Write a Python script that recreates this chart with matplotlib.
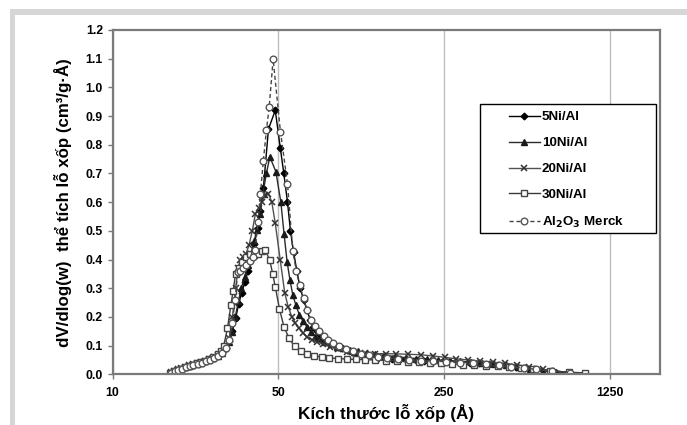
import matplotlib
matplotlib.use("Agg")
import matplotlib.pyplot as plt
from matplotlib.patches import Rectangle
from matplotlib.ticker import FixedLocator, NullLocator

plt.rcParams['font.family'] = ['Liberation Sans', 'DejaVu Sans']
plt.rcParams['mathtext.default'] = 'bf'

# ---------------- data ----------------
x_5ni = [17.6, 18.2, 18.8, 19.5, 20.2, 21.0, 21.8, 22.7, 23.6, 24.6, 25.6, 26.7, 27.8, 28.9,
         30.0, 31.0, 32.0, 33.0, 34.0, 35.0, 36.1, 37.2, 38.4, 39.6, 40.9, 42.0, 43.2, 45.4,
         48.5, 50.9, 52.7, 54.6, 56.2, 57.9, 59.8, 61.8, 63.8, 66.0, 68.0, 70.0, 72.5, 75.0,
         78.0, 80.8, 85.0, 89.0, 93.0, 97.6, 102, 107, 112, 118, 125, 132, 140, 150, 162, 175,
         190, 205, 225, 245, 265, 290, 320, 350, 385, 420, 460, 500, 550, 600, 720, 845]
y_5ni = [0.005, 0.012, 0.016, 0.020, 0.025, 0.030, 0.034, 0.038, 0.042, 0.047, 0.052, 0.058, 0.066, 0.076,
         0.092, 0.115, 0.150, 0.195, 0.245, 0.285, 0.320, 0.360, 0.405, 0.455, 0.510, 0.570, 0.648, 0.855,
         0.920, 0.790, 0.700, 0.600, 0.500, 0.427, 0.360, 0.300, 0.260, 0.224, 0.190, 0.166, 0.150, 0.137,
         0.125, 0.114, 0.104, 0.096, 0.090, 0.085, 0.079, 0.071, 0.067, 0.064, 0.061, 0.058, 0.057, 0.055, 0.053, 0.051,
         0.049, 0.047, 0.046, 0.044, 0.043, 0.042, 0.040, 0.038, 0.036, 0.033, 0.030, 0.027, 0.023, 0.019, 0.012, 0.006]

x_10ni = [17.5, 18.1, 18.7, 19.4, 20.1, 20.9, 21.7, 22.6, 23.5, 24.5, 25.5, 26.6, 27.7, 28.8,
          29.9, 30.9, 31.9, 32.9, 33.9, 34.9, 36.0, 37.1, 38.3, 39.5, 40.6, 41.8, 43.0, 44.5,
          46.0, 48.8, 51.2, 52.8, 54.4, 55.9, 57.5, 59.3, 61.3, 63.5, 66.0, 68.6, 71.4, 75.0,
          78.7, 83.0, 88.0, 94.0, 100, 108, 118, 128, 140, 155, 172, 190, 212, 236, 262, 292,
          325, 362, 405, 455, 510, 575, 650, 740, 840]
y_10ni = [0.006, 0.011, 0.015, 0.019, 0.024, 0.029, 0.033, 0.037, 0.041, 0.046, 0.051, 0.057, 0.065, 0.075,
          0.090, 0.112, 0.148, 0.200, 0.255, 0.300, 0.340, 0.380, 0.420, 0.465, 0.503, 0.560, 0.630, 0.700,
          0.758, 0.706, 0.600, 0.490, 0.392, 0.330, 0.276, 0.240, 0.207, 0.185, 0.165, 0.148, 0.131, 0.122,
          0.114, 0.105, 0.096, 0.090, 0.085, 0.080, 0.075, 0.070, 0.066, 0.062, 0.058, 0.055, 0.052, 0.049, 0.047, 0.045,
          0.043, 0.040, 0.036, 0.031, 0.025, 0.019, 0.012, 0.008, 0.005]

x_20ni = [17.6, 18.2, 18.8, 19.5, 20.2, 21.0, 21.8, 22.7, 23.6, 24.6, 25.6, 26.7, 27.8, 28.9,
          30.0, 31.0, 32.0, 33.0, 33.8, 34.6, 35.5, 36.5, 37.6, 38.8, 40.0, 41.3, 42.7, 44.0,
          45.4, 46.9, 48.5, 50.9, 53.2, 55.0, 57.0, 59.0, 61.0, 63.5, 66.0, 69.0, 72.5, 77.0,
          82.8, 89.0, 97.0, 106, 116, 128, 142, 157, 176, 199, 225, 252, 280, 315, 355, 400,
          450, 505, 570, 650]
y_20ni = [0.007, 0.013, 0.017, 0.021, 0.026, 0.031, 0.035, 0.039, 0.043, 0.048, 0.053, 0.059, 0.067, 0.078,
          0.095, 0.125, 0.200, 0.300, 0.370, 0.400, 0.410, 0.420, 0.450, 0.500, 0.560, 0.580, 0.600, 0.625,
          0.630, 0.600, 0.526, 0.398, 0.282, 0.235, 0.200, 0.178, 0.160, 0.145, 0.130, 0.121, 0.114, 0.105,
          0.096, 0.087, 0.079, 0.075, 0.073, 0.072, 0.072, 0.071, 0.070, 0.068, 0.064, 0.059, 0.054, 0.050, 0.046, 0.042,
          0.038, 0.033, 0.027, 0.020]

x_30ni = [17.5, 18.1, 18.7, 19.4, 20.1, 20.9, 21.7, 22.6, 23.5, 24.5, 25.5, 26.6, 27.7, 28.6,
          29.4, 30.5, 31.5, 32.2, 33.0, 34.0, 35.2, 36.5, 38.0, 39.5, 41.0, 42.5, 43.9, 45.9,
          47.3, 48.5, 50.5, 52.8, 55.5, 58.5, 62.0, 66.0, 70.5, 76.0, 82.0, 89.0, 97.0, 106,
          116, 128, 142, 158, 176, 196, 218, 243, 270, 300, 335, 375, 420, 470, 525, 590,
          700, 840, 980]
y_30ni = [0.006, 0.012, 0.016, 0.020, 0.025, 0.030, 0.034, 0.039, 0.043, 0.048, 0.054, 0.061, 0.070, 0.082,
          0.100, 0.160, 0.240, 0.290, 0.350, 0.370, 0.390, 0.410, 0.420, 0.415, 0.420, 0.430, 0.433, 0.400,
          0.350, 0.305, 0.228, 0.165, 0.125, 0.097, 0.082, 0.071, 0.065, 0.060, 0.057, 0.055, 0.053, 0.052,
          0.051, 0.050, 0.048, 0.046, 0.044, 0.042, 0.040, 0.038, 0.036, 0.034, 0.032, 0.030, 0.028, 0.025, 0.021, 0.017,
          0.012, 0.007, 0.005]

x_al2o3 = [17.7, 18.3, 18.9, 19.6, 20.3, 21.1, 21.9, 22.8, 23.7, 24.7, 25.7, 26.8, 27.9, 29.0,
           30.0, 31.0, 32.0, 32.8, 33.7, 34.6, 35.5, 36.6, 37.8, 39.0, 39.9, 41.0, 42.0, 43.2,
           44.5, 45.7, 47.5, 51.0, 54.6, 57.5, 59.5, 61.5, 63.8, 66.0, 68.5, 71.0, 74.0, 77.5,
           81.0, 85.0, 90.0, 96.0, 103, 111, 120, 131, 144, 160, 178, 200, 225, 255, 290, 330,
           375, 425, 480, 540, 610, 713, 845]
y_al2o3 = [0.006, 0.012, 0.016, 0.020, 0.025, 0.029, 0.033, 0.037, 0.041, 0.046, 0.051, 0.057, 0.065, 0.075,
           0.090, 0.120, 0.180, 0.260, 0.355, 0.360, 0.370, 0.380, 0.395, 0.410, 0.433, 0.530, 0.630, 0.745,
           0.850, 0.930, 1.098, 0.845, 0.665, 0.430, 0.360, 0.310, 0.265, 0.225, 0.190, 0.170, 0.150, 0.135,
           0.120, 0.108, 0.098, 0.088, 0.080, 0.072, 0.066, 0.062, 0.058, 0.054, 0.051, 0.048, 0.046, 0.044, 0.041, 0.038,
           0.035, 0.031, 0.027, 0.022, 0.017, 0.013, 0.006]

labels = ['5Ni/Al', '10Ni/Al', '20Ni/Al', '30Ni/Al', 'Al$_2$O$_3$ Merck']
x_ticks = [10, 50, 250, 1250]
x_tick_labels = ['10', '50', '250', '1250']
y_ticks = [0.0, 0.1, 0.2, 0.3, 0.4, 0.5, 0.6, 0.7, 0.8, 0.9, 1.0, 1.1, 1.2]

# ---------------- figure ----------------
W, H = 687, 425
fig = plt.figure(figsize=(W / 100, H / 100), dpi=100)
fig.patch.set_facecolor('white')

# light grey frame (top and left bands)
fig.patches.append(Rectangle((10 / W, 1 - 15 / H), 1 - 10 / W, 6 / H, transform=fig.transFigure,
                             facecolor='#d6d6d6', edgecolor='none', zorder=0))
fig.patches.append(Rectangle((10 / W, 0), 5 / W, 1 - 10 / H, transform=fig.transFigure,
                             facecolor='#d6d6d6', edgecolor='none', zorder=0))

ax = fig.add_axes([112.6 / W, 1 - 374.3 / H, (660 - 112.6) / W, (374.3 - 30) / H])
ax.set_xscale('log')
ax.set_xlim(10, 2030)
ax.set_ylim(0, 1.2)

series = [
    (x_5ni, y_5ni, dict(color='#000000', ls='-', marker='D', ms=3.4, mfc='#000000', mec='#000000')),
    (x_10ni, y_10ni, dict(color='#2a2a2a', ls='-', marker='^', ms=4.4, mfc='#1a1a1a', mec='#1a1a1a')),
    (x_20ni, y_20ni, dict(color='#505050', ls='-', marker='x', ms=5, mfc='none', mec='#333333', mew=1.1)),
    (x_30ni, y_30ni, dict(color='#3a3a3a', ls='-', marker='s', ms=4.2, mfc='white', mec='#444444', mew=1.0)),
    (x_al2o3, y_al2o3, dict(color='#444444', ls=(0, (3, 2)), marker='o', ms=4.8, mfc='white', mec='#555555', mew=1.0)),
]
handles = []
for (xs, ys, st), lab in zip(series, labels):
    ln, = ax.plot(xs, ys, lw=1.0, label=lab, **st)
    handles.append(ln)

ax.xaxis.set_major_locator(FixedLocator(x_ticks))
ax.xaxis.set_minor_locator(NullLocator())
ax.set_xticklabels(x_tick_labels)
ax.set_yticks(y_ticks)
ax.set_yticklabels([f'{v:.1f}' for v in y_ticks])
ax.grid(axis='x', color='#bdbdbd', lw=1.0)
ax.set_axisbelow(True)

for sp in ax.spines.values():
    sp.set_color('#7a7a7a')
    sp.set_linewidth(1.6)
ax.tick_params(axis='both', labelsize=8.8, colors='#7a7a7a', labelcolor='black', length=3.5, width=1, direction='out')
for lab in ax.get_xticklabels() + ax.get_yticklabels():
    lab.set_fontweight('bold')
ax.tick_params(axis='x', pad=6)

ax.set_xlabel('Kích thước lỗ xốp (Å)', fontsize=12.3, fontweight='bold', labelpad=3)
ax.set_ylabel('dV/dlog(w)  thể tích lỗ xốp (cm³/g·Å)', fontsize=12.2, fontweight='bold', labelpad=10)

# legend box
fig.patches.append(Rectangle((480 / W, 1 - 233 / H), 176 / W, 129 / H, transform=fig.transFigure,
                             facecolor='white', edgecolor='black', lw=1.0, zorder=5))
leg = fig.legend(handles=handles, labels=labels, loc='upper left',
                 bbox_to_anchor=(509 / W, 1 - 111 / H), frameon=False,
                 borderpad=0, borderaxespad=0,
                 prop={'weight': 'bold', 'size': 9.6}, handlelength=2.3, handletextpad=0.15,
                 labelspacing=1.02)
leg.set_zorder(6)

fig.savefig('out.png', dpi=100)
